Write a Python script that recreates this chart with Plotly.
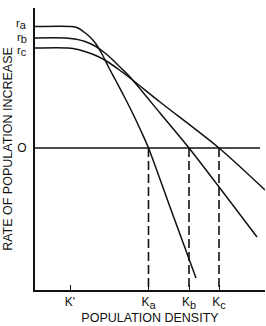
import plotly.graph_objects as go

# Population density (arbitrary units) and rate of increase (arbitrary units)
curve_a_x = [0, 37, 43, 49, 55, 61, 67, 73, 81, 91, 98, 106, 113.5, 135, 161]
curve_a_y = [121.5, 121.5, 120, 116, 111, 104, 94, 82, 67, 48, 34, 17, 0, -59, -130]

curve_b_x = [0, 30, 40, 50, 60, 70, 80, 87, 95, 125, 154, 222]
curve_b_y = [110, 110, 109, 106.5, 102, 95, 86, 79, 71, 35, 0, -89]

curve_c_x = [0, 33, 43, 53, 63, 73, 83, 95, 125, 184, 230]
curve_c_y = [100, 100, 98.5, 95.5, 91.5, 86, 79, 70, 46, 0, -42]

r_levels = [121.5, 110, 100]
r_subs = ["a", "b", "c"]

k_values = [35, 113.5, 154, 184]
k_subs = ["'", "a", "b", "c"]
k_carrying = [113.5, 154, 184]

zero_line_x = [0, 225]
x_range = [0, 230]
y_range = [-142, 140]

INK = "#111111"
FONT = "Liberation Sans, Arial, sans-serif"


def subscripted(base, sub, size):
    if sub == "'":
        return base + sub
    return f"{base}<sub><span style='font-size:{size}px'>{sub}</span></sub>"


fig = go.Figure()

# zero line
fig.add_trace(go.Scatter(x=zero_line_x, y=[0, 0], mode="lines",
                         line=dict(color=INK, width=1.6), hoverinfo="skip"))

for xs, ys in [(curve_a_x, curve_a_y), (curve_b_x, curve_b_y), (curve_c_x, curve_c_y)]:
    fig.add_trace(go.Scatter(x=xs, y=ys, mode="lines",
                             line=dict(color=INK, width=1.5, shape="spline", smoothing=0.8),
                             hoverinfo="skip"))

for k in k_carrying:
    fig.add_trace(go.Scatter(x=[k, k], y=[0, y_range[0]], mode="lines",
                             line=dict(color=INK, width=1.6, dash="9px,4px"),
                             hoverinfo="skip"))

# r labels, spread slightly apart as in the original drawing
for lvl, sub, ys in zip(r_levels, r_subs, [3, 0, -3]):
    fig.add_annotation(x=0, y=lvl, xref="x", yref="y", text=subscripted("r", sub, 11),
                       showarrow=False, xanchor="right", yanchor="middle",
                       xshift=-6, yshift=ys,
                       font=dict(size=11.5, family=FONT, color=INK))

fig.update_layout(
    width=266, height=326,
    margin=dict(l=35, r=1, t=8, b=36),
    paper_bgcolor="white", plot_bgcolor="white",
    showlegend=False,
    font=dict(family=FONT, color=INK, size=12),
    xaxis=dict(range=x_range, showgrid=False, zeroline=False,
               showline=True, linecolor=INK, linewidth=2,
               ticks="inside", ticklen=5, tickwidth=1.2, tickcolor=INK,
               tickvals=k_values,
               ticktext=[subscripted("K", s, 11) for s in k_subs],
               tickfont=dict(size=12), ticklabelstandoff=0,
               title=dict(text="POPULATION DENSITY", font=dict(size=12.5), standoff=0)),
    yaxis=dict(range=y_range, showgrid=False, zeroline=False,
               showline=True, linecolor=INK, linewidth=2,
               ticks="", tickvals=[0], ticktext=["O"],
               tickfont=dict(size=12), ticklabelstandoff=4,
               title=dict(text="RATE OF POPULATION INCREASE", font=dict(size=12.5), standoff=2)),
)

fig.write_html("out.html")
